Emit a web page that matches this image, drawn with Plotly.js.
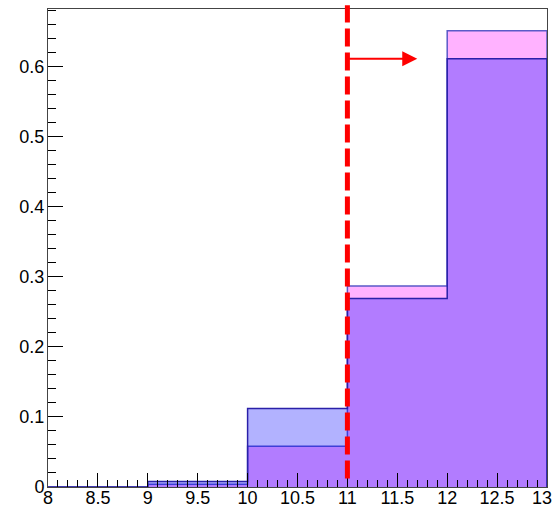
<!DOCTYPE html>
<html>
<head>
<meta charset="utf-8">
<script src="https://cdn.plot.ly/plotly-3.0.1.min.js"></script>
<style>html,body{margin:0;padding:0;background:#fff;}#chart{width:554px;height:509px;}</style>
</head>
<body>
<div id="chart"></div>
<script>
// bin edges and histogram contents
var binEdges = [8, 9, 10, 11, 12, 13];
var pinkValues = [0, 0.004, 0.058, 0.2867, 0.651];
var blueValues = [0, 0.0077, 0.112, 0.269, 0.611];
var xTickLabels = ['8', '8.5', '9', '9.5', '10', '10.5', '11', '11.5', '12', '12.5', '13'];
var cutValue = 11;
var arrowEnd = 11.7;
var arrowLevel = 0.611;

function steps(edges, vals) {
  var xs = edges.slice();
  var ys = vals.concat([vals[vals.length - 1]]);
  xs.push(edges[edges.length - 1]);
  ys.push(0);
  return {x: xs, y: ys};
}

var sp = steps(binEdges, pinkValues);
var sb = steps(binEdges, blueValues);

// keep the last label inside the page (nudged left like the reference)
var xTickText = xTickLabels.map(function (t, i) {
  return i === xTickLabels.length - 1 ? t + '\u00a0\u00a0' : t;
});

function mkFont() { return {family: 'Liberation Sans', size: 18, color: '#000000'}; }

var traces = [
  {x: sp.x, y: sp.y, type: 'scatter', mode: 'lines', line: {shape: 'hv', color: '#5a5ac8', width: 1.5},
   fill: 'tozeroy', fillcolor: 'rgba(255,0,255,0.3)', hoverinfo: 'skip'},
  {x: sb.x, y: sb.y, type: 'scatter', mode: 'lines', line: {shape: 'hv', color: '#2a20a8', width: 1.5},
   fill: 'tozeroy', fillcolor: 'rgba(0,0,255,0.3)', hoverinfo: 'skip'}
];

var layout = {
  width: 554, height: 509,
  margin: {l: 48, r: 7, t: 9, b: 22, pad: 0},
  paper_bgcolor: '#fff', plot_bgcolor: '#fff',
  showlegend: false,
  font: mkFont(),
  xaxis: {
    range: [8, 13], tickmode: 'array', tickvals: xTickLabels.map(Number), ticktext: xTickText,
    ticks: 'inside', ticklen: 14, tickcolor: '#000', tickwidth: 1, ticklabelstandoff: -6,
    ticklabeloverflow: 'allow',
    showline: true, linecolor: '#444', linewidth: 1, mirror: true, showgrid: false, zeroline: false,
    tickfont: mkFont(),
    minor: {dtick: 0.1, tick0: 8, ticks: 'inside', ticklen: 7, tickcolor: '#000', tickwidth: 1, showgrid: false}
  },
  yaxis: {
    range: [0, 0.682], tick0: 0, dtick: 0.1, ticks: 'inside', ticklen: 15, tickcolor: '#000', tickwidth: 1,
    showline: true, linecolor: '#444', linewidth: 1, mirror: true, showgrid: false, zeroline: false,
    tickfont: mkFont(), ticklabelstandoff: -1, ticklabeloverflow: 'allow',
    minor: {dtick: 0.02, tick0: 0, ticks: 'inside', ticklen: 7.5, tickcolor: '#000', tickwidth: 1, showgrid: false}
  },
  shapes: [
    {type: 'line', xref: 'x', yref: 'paper', x0: cutValue, x1: cutValue, y0: 0.018, y1: 1.008,
     line: {color: '#ff0000', width: 5, dash: '18px,6px'}, layer: 'above'}
  ],
  annotations: [
    {x: arrowEnd, y: arrowLevel, ax: cutValue, ay: arrowLevel, xref: 'x', yref: 'y', axref: 'x', ayref: 'y',
     text: '', showarrow: true, arrowhead: 2, arrowsize: 1.5, arrowwidth: 2, arrowcolor: '#ff0000'}
  ]
};

Plotly.newPlot('chart', traces, layout, {displayModeBar: false, staticPlot: true});
</script>
</body>
</html>
